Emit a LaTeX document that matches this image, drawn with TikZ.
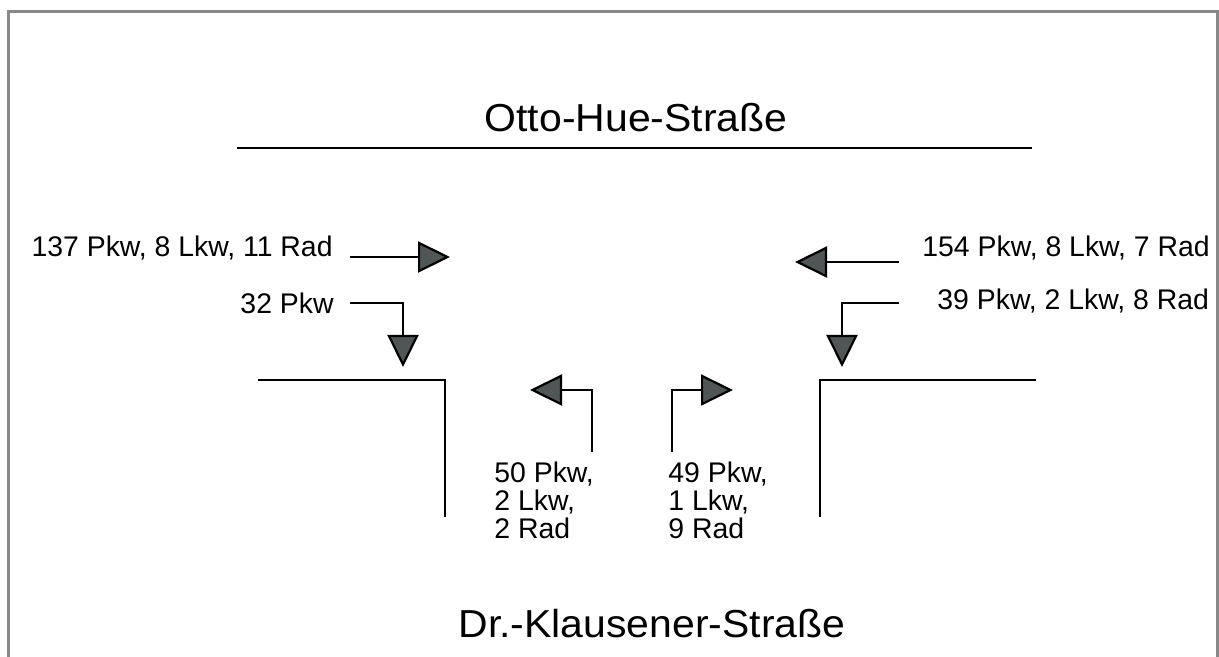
\documentclass[tikz,border=0pt]{standalone}
\usepackage{fontspec}
\setmainfont{Liberation Sans}
\newfontfamily\titlefont[FakeStretch=1.05]{Liberation Sans}
\usetikzlibrary{arrows.meta}
\definecolor{framegray}{RGB}{136,136,136}
\definecolor{tipfill}{RGB}{80,86,86}
\begin{document}
\begin{tikzpicture}[x=0.5pt,y=-0.5pt,
  street/.style={line width=1.1pt, black},
  flow/.style={line width=1.1pt, -{Triangle[length=16pt,width=15.5pt,fill=tipfill]}},
  lab/.style={font=\fontsize{14.2}{14}\selectfont, inner sep=0pt},
  title/.style={font=\titlefont\fontsize{19.5}{21}\selectfont, inner sep=0pt}]
\useasboundingbox (0,0) rectangle (1219,657);
\draw[framegray, line width=1.25pt] (8.5,657) -- (8.5,11.7) -- (1217.5,11.7) -- (1217.5,657);

% street names
\node[title, anchor=base] (otto) at (636,132) {Otto-Hue-Straße};
\node[title, anchor=base] (klaus) at (652,637) {Dr.-Klausener-Straße};

% street edges
\coordinate (topL) at (237,148);
\coordinate (topR) at (1032,148);
\draw[street] (topL) -- (topR);
\coordinate (swA) at (258,380);
\coordinate (swB) at (445,380);
\coordinate (swC) at (445,517);
\draw[street] (swA) -- (swB) -- (swC);
\coordinate (seA) at (1036,380);
\coordinate (seB) at (820,380);
\coordinate (seC) at (820,517);
\draw[street] (seA) -- (seB) -- (seC);

% labels
\node[lab, anchor=base east] (w1) at (333,257) {137 Pkw, 8 Lkw, 11 Rad};
\node[lab, anchor=base east] (w2) at (334,314) {32 Pkw};
\node[lab, anchor=base west] (e1) at (922,257) {154 Pkw, 8 Lkw, 7 Rad};
\node[lab, anchor=base west] (e2) at (937,310) {39 Pkw, 2 Lkw, 8 Rad};
\node[lab, anchor=north west, align=left] (s1) at (494,462) {50 Pkw,\\2 Lkw,\\2 Rad};
\node[lab, anchor=north west, align=left] (s2) at (668,462) {49 Pkw,\\1 Lkw,\\9 Rad};

% arrow tips
\coordinate (w1tip) at (450,257);
\coordinate (w2tip) at (403,367);
\coordinate (e1tip) at (795,262);
\coordinate (e2tip) at (842,367);
\coordinate (s1tip) at (530,390);
\coordinate (s2tip) at (733,390);

% flows
\draw[flow] ([xshift=8.5pt]w1.base east) -- (w1tip);
\draw[flow] ([xshift=8pt,yshift=5.5pt]w2.base east) -| (w2tip);
\draw[flow] ([xshift=-11.5pt,yshift=-2.5pt]e1.base west) -- (e1tip);
\draw[flow] ([xshift=-19pt,yshift=3.5pt]e2.base west) -| (e2tip);
\draw[flow] ([xshift=49pt,yshift=5pt]s1.north west) |- (s1tip);
\draw[flow] ([xshift=2pt,yshift=5pt]s2.north west) |- (s2tip);
\end{tikzpicture}
\end{document}
